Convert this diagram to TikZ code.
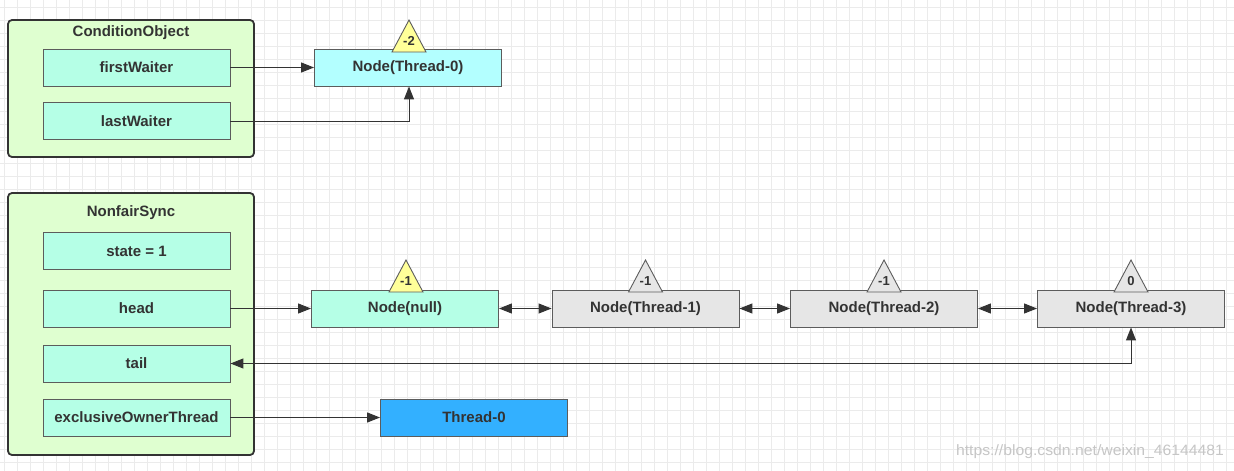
\documentclass[tikz,border=0pt]{standalone}
\usepackage{fontspec}
\setmainfont{Liberation Sans}
\usetikzlibrary{arrows.meta}
\definecolor{gridc}{HTML}{EBEBEB}
\definecolor{outerfill}{HTML}{DFFFD0}
\definecolor{fieldfill}{HTML}{B5FFE6}
\definecolor{cyanfill}{HTML}{B3FFFF}
\definecolor{grayfill}{HTML}{E6E6E6}
\definecolor{bluefill}{HTML}{33B0FF}
\definecolor{triyellow}{HTML}{FFFF99}
\definecolor{ink}{HTML}{333333}
\tikzset{
  outerbox/.style={draw=ink, line width=1.8pt, fill=outerfill, rounded corners=4pt},
  fieldbox/.style={draw=ink!80, line width=0.9pt, fill=fieldfill, minimum width=187pt, minimum height=37pt, inner sep=0pt, font=\bfseries\fontsize{15}{18}\selectfont, text=ink},
  title/.style={font=\bfseries\fontsize{15}{18}\selectfont, text=ink, inner sep=0pt},
  tri/.style={draw=ink!80, line width=0.9pt},
  trilabel/.style={font=\bfseries\fontsize{13}{15}\selectfont, text=ink, inner sep=0pt},
  conn/.style={draw=ink, line width=1pt, -{Triangle[length=13pt,width=10pt]}},
  dconn/.style={draw=ink, line width=1pt, {Triangle[length=13pt,width=10pt]}-{Triangle[length=13pt,width=10pt]}},
}
\begin{document}
\begin{tikzpicture}[x=1pt,y=-1pt]
\useasboundingbox (0,0) rectangle (1234,471);
\fill[white] (0,0) rectangle (1234,471);
% grid
\foreach \gx in {4,17,...,1234} {\draw[gridc, line width=0.6pt] (\gx,0) -- (\gx,471);}
\foreach \gy in {7,20,...,471} {\draw[gridc, line width=0.6pt] (0,\gy) -- (1234,\gy);}
% watermark text
\node[font=\fontsize{15}{18}\selectfont, text=gray!45, inner sep=0pt, xscale=1.05] (wm) at (1090,452) {https://blog.csdn.net/weixin\_46144481};

% ConditionObject
\draw[outerbox] (8,20) rectangle (254,157);
\node[title] (cotitle) at (131,33) {ConditionObject};
\node[fieldbox] (fw) at (136.5,67.5) {firstWaiter};
\node[fieldbox] (lw) at (136.5,121) {lastWaiter};
\node[fieldbox, fill=cyanfill] (n0) at (408,67.5) {Node(Thread-0)};
\draw[tri, fill=triyellow] (409,20) -- (426,52) -- (392,52) -- cycle;
\node[trilabel] (t0lab) at (409,41) {-2};
\draw[conn] (fw.east) -- (n0.west);
\draw[conn] (lw.east) -| ([xshift=1pt]n0.south);

% NonfairSync
\draw[outerbox] (8,193) rectangle (254,455);
\node[title] (nstitle) at (131,213) {NonfairSync};
\node[fieldbox] (st) at (136.5,251) {state = 1};
\node[fieldbox] (hd) at (136.5,308.5) {head};
\node[fieldbox] (tl) at (136.5,363.5) {tail};
\node[fieldbox] (eo) at (136.5,417.5) {exclusiveOwnerThread};

\node[fieldbox] (nn) at (405,308.5) {Node(null)};
\node[fieldbox, fill=grayfill] (n1) at (645.5,308.5) {Node(Thread-1)};
\node[fieldbox, fill=grayfill] (n2) at (884,308.5) {Node(Thread-2)};
\node[fieldbox, fill=grayfill] (n3) at (1131,308.5) {Node(Thread-3)};
\node[fieldbox, fill=bluefill] (th0) at (474,417.5) {Thread-0};

\draw[tri, fill=triyellow] (406,260) -- (423,292) -- (389,292) -- cycle;
\node[trilabel] (lnn) at (406,281) {-1};
\draw[tri, fill=grayfill] (645.5,260) -- (662.5,292) -- (628.5,292) -- cycle;
\node[trilabel] (ln1) at (645.5,281) {-1};
\draw[tri, fill=grayfill] (884,260) -- (901,292) -- (867,292) -- cycle;
\node[trilabel] (ln2) at (884,281) {-1};
\draw[tri, fill=grayfill] (1131,260) -- (1148,292) -- (1114,292) -- cycle;
\node[trilabel] (ln3) at (1131,281) {0};

\draw[conn] (hd.east) -- (nn.west);
\draw[dconn] (nn.east) -- (n1.west);
\draw[dconn] (n1.east) -- (n2.west);
\draw[dconn] (n2.east) -- (n3.west);
\draw[dconn] (tl.east) -| (n3.south);
\draw[conn] (eo.east) -- (th0.west);
\end{tikzpicture}
\end{document}
